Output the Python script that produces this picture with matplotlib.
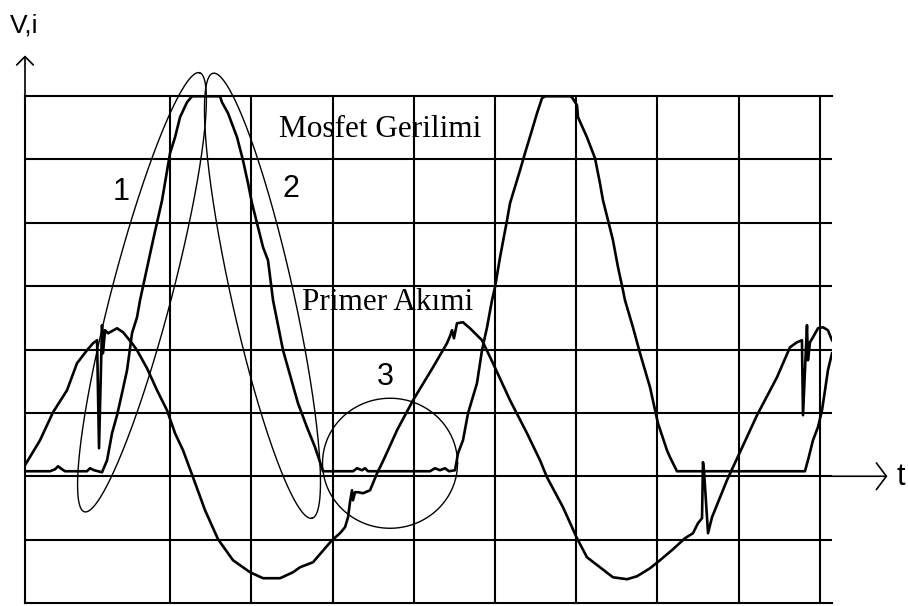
import numpy as np
import matplotlib.pyplot as plt

# Oscilloscope traces, time and amplitude in screen divisions
# Mosfet drain voltage (clipped at the top of the screen)
volt_t = [0.215, 0.523, 0.585, 0.622, 0.671, 0.708, 0.978, 1.015, 1.065, 1.163,
          1.225, 1.286, 1.348, 1.409, 1.471, 1.508, 1.532, 1.594, 1.631, 1.791,
          1.902, 2.000, 2.062, 2.123, 2.209, 2.271, 2.615, 2.640, 2.714, 2.825,
          2.898, 2.960, 3.009, 3.071, 3.145, 3.206, 3.268, 3.391, 3.575, 3.686,
          3.785, 3.871, 3.883, 4.252, 4.302, 4.363, 4.400, 4.437, 5.200, 5.262,
          5.323, 5.385, 5.434, 5.508, 5.545, 5.606, 5.668, 5.778, 5.840, 5.902,
          5.963, 6.000, 6.062, 6.148, 6.185, 6.308, 6.369, 6.455, 6.517, 6.578,
          6.615, 6.923, 6.948, 7.009, 7.022, 7.132, 7.231, 7.292, 7.329, 7.391,
          7.452, 7.514, 7.575, 7.600, 7.698, 7.785, 7.908, 8.006, 8.117, 8.154,
          8.240, 9.815, 9.852, 9.914, 9.975, 10.025, 10.062, 10.098, 10.148]
volt_v = [0.079, 0.079, 0.110, 0.158, 0.110, 0.079, 0.079, 0.126, 0.095, 0.063,
          0.252, 0.678, 0.963, 1.310, 1.673, 2.020, 2.256, 2.509, 2.777, 3.724,
          4.355, 5.097, 5.349, 5.665, 5.901, 5.996, 5.996, 5.901, 5.728, 5.349,
          4.986, 4.623, 4.308, 3.992, 3.613, 3.408, 2.777, 1.988, 1.152, 0.773,
          0.458, 0.126, 0.079, 0.079, 0.126, 0.095, 0.126, 0.079, 0.079, 0.126,
          0.095, 0.126, 0.079, 0.095, 0.363, 0.568, 0.994, 1.467, 1.988, 2.351,
          2.777, 2.982, 3.456, 4.039, 4.308, 4.828, 5.097, 5.460, 5.728, 5.964,
          5.996, 5.996, 5.980, 5.854, 5.665, 5.349, 5.018, 4.623, 4.355, 4.039,
          3.724, 3.298, 2.935, 2.777, 2.351, 1.941, 1.404, 0.836, 0.410, 0.300,
          0.079, 0.079, 0.252, 0.568, 0.773, 1.041, 1.357, 1.673, 1.941]

# Primary current
curr_t = [0.215, 0.400, 0.560, 0.732, 0.855, 0.978, 1.052, 1.102, 1.126, 1.163,
          1.175, 1.200, 1.237, 1.348, 1.422, 1.532, 1.594, 1.717, 1.840, 1.963,
          2.062, 2.160, 2.283, 2.431, 2.591, 2.775, 2.985, 3.145, 3.354, 3.514,
          3.600, 3.760, 3.908, 3.994, 4.092, 4.154, 4.191, 4.215, 4.240, 4.252,
          4.277, 4.314, 4.375, 4.462, 4.498, 4.548, 4.609, 4.683, 4.794, 4.991,
          5.237, 5.409, 5.446, 5.471, 5.495, 5.532, 5.606, 5.692, 5.840, 5.975,
          6.185, 6.394, 6.554, 6.640, 6.837, 7.009, 7.132, 7.292, 7.452, 7.625,
          7.748, 7.908, 8.031, 8.191, 8.338, 8.437, 8.498, 8.548, 8.560, 8.572,
          8.622, 8.671, 8.855, 9.015, 9.225, 9.471, 9.631, 9.717, 9.778, 9.791,
          9.840, 9.852, 9.877, 9.914, 9.975, 10.037, 10.098, 10.148]
curr_v = [0.174, 0.568, 1.010, 1.357, 1.783, 1.988, 2.099, 2.146, 0.442, 2.383,
          1.941, 2.304, 2.256, 2.335, 2.272, 2.099, 1.988, 1.704, 1.357, 1.041,
          0.678, 0.410, -0.016, -0.536, -0.994, -1.325, -1.515, -1.609, -1.609, -1.515,
          -1.436, -1.357, -1.136, -1.010, -0.899, -0.805, -0.647, -0.410, -0.221, -0.379,
          -0.252, -0.252, -0.268, -0.221, -0.110, 0.047, 0.205, 0.410, 0.726, 1.199,
          1.720, 2.099, 2.210, 2.304, 2.177, 2.414, 2.430, 2.335, 2.146, 1.783,
          1.199, 0.678, 0.252, -0.016, -0.489, -0.978, -1.278, -1.436, -1.594, -1.625,
          -1.578, -1.452, -1.325, -1.152, -0.978, -0.899, -0.742, -0.663, 0.221, 0.095,
          -0.899, -0.647, -0.063, 0.379, 0.963, 1.562, 2.036, 2.114, 2.146, 0.963,
          2.383, 1.830, 2.114, 2.193, 2.335, 2.351, 2.304, 2.146]

# Marked regions: centre and two conjugate semi-diameters (divisions)
rings = [
    ((1.655, 2.903), (0.708, 3.464), (0.357, -0.120)),
    ((3.138, 2.848), (0.609, -3.511), (0.373, 0.106)),
    ((4.708, 0.205), (0.831, 0.0), (0.0, 1.026)),
]
ring_labels = [("1", 1.397, 4.355), ("2", 3.483, 4.402), ("3", 4.646, 1.436)]

fig = plt.figure(figsize=(9.08, 6.06), dpi=100)
ax = fig.add_axes([25 / 908, 3 / 606, 807 / 908, 507 / 606])
ax.set_xlim(0.215, 10.148)
ax.set_ylim(-2.0, 6.0)

# graticule
ax.set_xticks(range(2, 11))
ax.set_yticks(range(-1, 6))
ax.grid(True, color='black', lw=1.5)
ax.tick_params(length=0, labelleft=False, labelbottom=False)
for side in ['left', 'top', 'bottom']:
    ax.spines[side].set_linewidth(1.5)
ax.spines['right'].set_visible(False)

ax.plot(volt_t, volt_v, color='black', lw=1.9, zorder=3)
ax.plot(curr_t, curr_v, color='black', lw=1.9, zorder=3)

s = np.linspace(0, 2 * np.pi, 400)
for (c, r1, r2) in rings:
    ax.plot(c[0] + r1[0] * np.cos(s) + r2[0] * np.sin(s),
            c[1] + r1[1] * np.cos(s) + r2[1] * np.sin(s),
            color='black', lw=1.0, clip_on=False, zorder=4)

sans = 'Liberation Sans'
serif = 'Liberation Serif'
for (txt, x, y) in ring_labels:
    ax.text(x, y, txt, fontsize=22, family=sans, ha='center', va='baseline', zorder=5)

ax.text(3.342, 5.349, "Mosfet Gerilimi", fontsize=22.5, family=serif,
        ha='left', va='baseline', zorder=5)
ax.text(3.625, 2.619, "Primer Akımi", fontsize=22.5, family=serif,
        ha='left', va='baseline', zorder=5)

# axis arrows
ax.annotate('', xy=(0.215, 6.64), xytext=(0.215, 5.99), annotation_clip=False,
            arrowprops=dict(arrowstyle='->,head_length=0.5,head_width=0.5',
                            lw=1.2, color='black', mutation_scale=12,
                            shrinkA=0, shrinkB=0))
ax.annotate('', xy=(10.83, 0.0), xytext=(10.14, 0.0), annotation_clip=False,
            arrowprops=dict(arrowstyle='->,head_length=0.6,head_width=0.8',
                            lw=1.2, color='black', mutation_scale=12,
                            shrinkA=0, shrinkB=0))
ax.text(0.031, 7.006, "V,i", fontsize=19, family=sans, ha='left', va='baseline')
ax.text(10.948, -0.142, "t", fontsize=22, family=sans, ha='left', va='baseline')

fig.savefig('out.png', dpi=100)
